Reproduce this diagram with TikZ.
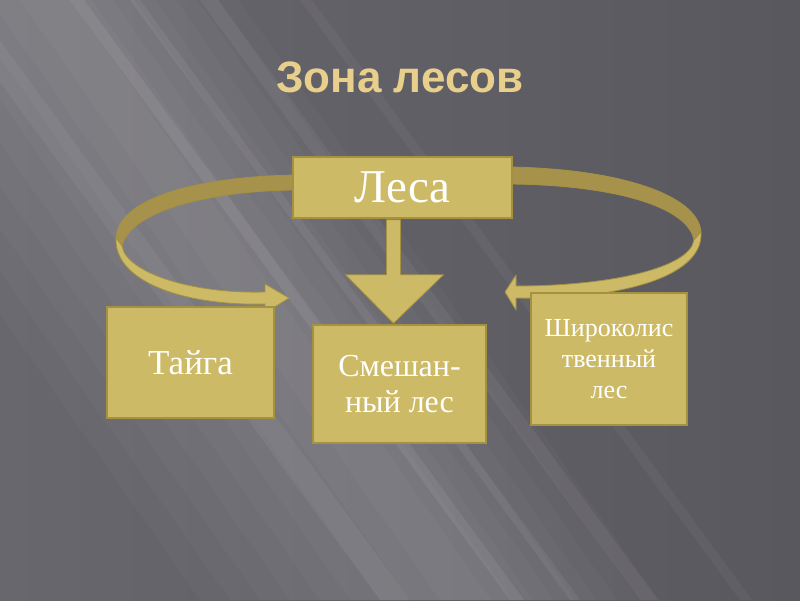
\documentclass[tikz,border=0pt]{standalone}
\usepackage{fontspec}
\setmainfont{Liberation Serif}
\newfontfamily\headfont{Liberation Sans}
\usetikzlibrary{calc}
\definecolor{boxfill}{RGB}{205,186,102}
\definecolor{boxedge}{RGB}{165,145,66}
\definecolor{ribback}{RGB}{166,146,74}
\definecolor{headcol}{RGB}{232,208,140}
\definecolor{bgleft}{RGB}{104,103,109}
\definecolor{bgright}{RGB}{90,88,95}

\begin{document}
\begin{tikzpicture}[x=1pt, y=-1pt,
  box/.style={draw=boxedge, line width=1.5pt, fill=boxfill, text=white, align=center,
    inner sep=0pt, font=\fontsize{32}{36}\selectfont},
  rib/.style={draw=boxedge, line width=0.8pt, line join=round}]
% background with a soft diagonal glow
\shade[left color=bgleft, right color=bgright] (0,0) rectangle (800,600);
\useasboundingbox (0,0) rectangle (800,600);
\foreach \w in {30,60,...,270}{
  \fill[white, opacity=0.024] (50-\w,0) -- (50+\w*0.7,0) -- (470+\w*0.7,600) -- (470-\w,600) -- cycle;
}
\foreach \a/\w/\o in {-60/30/0.05, 70/14/0.07, 130/10/0.06, 200/18/0.05, 300/12/0.04}{
  \fill[white, opacity=\o] (\a,0) -- (\a+\w,0) -- (\a+\w+440,600) -- (\a+440,600) -- cycle;
}
\node[font=\headfont\bfseries\fontsize{44}{48}\selectfont, text=headcol] (title) at (400,77) {Зона лесов};
% ribbons round the top box
\fill[ribback, rib] (295,175) .. controls (190,177) and (118,200) .. (116,238)
  -- (122,246) .. controls (130,212) and (205,191) .. (295,190) -- cycle;
\fill[boxfill, rib] (116,238) .. controls (114,282) and (185,306) .. (265,304)
  -- (265,313) -- (289,298) -- (265,284) -- (265,292)
  .. controls (190,294) and (126,272) .. (122,246) -- cycle;
\fill[ribback, rib] (510,167) .. controls (620,169) and (698,195) .. (701,232)
  -- (694,240) .. controls (688,207) and (615,185) .. (510,184) -- cycle;
\fill[boxfill, rib] (701,232) .. controls (704,280) and (610,300) .. (516,298)
  -- (516,310) -- (505,292) -- (516,275) -- (516,286)
  .. controls (610,286) and (690,268) .. (694,240) -- cycle;
% boxes
\node[box, minimum width=219pt, minimum height=61pt, font=\fontsize{47}{50}\selectfont] (les) at (402.5,187.5) {Леса};
\node[box, minimum width=167pt, minimum height=111pt, font=\fontsize{35}{38}\selectfont] (taiga) at (190.5,362.5) {Тайга};
\node[box, minimum width=173pt, minimum height=118pt] (mix) at (399.5,384) {Смешан-\\ный лес};
\node[box, minimum width=156pt, minimum height=132pt, font=\fontsize{26}{31}\selectfont] (broad) at (609,359) {Широколис\\твенный\\лес};
% down arrow
\coordinate (ar) at ($(les.south)+(-9,0)$);
\fill[boxfill, rib] ($(ar)+(-7,1)$) -- ($(ar)+(-7,56)$) -- ($(ar)+(-48,56)$)
  -- ($(mix.north)+(-6,-1)$) -- ($(ar)+(50,56)$) -- ($(ar)+(7,56)$) -- ($(ar)+(7,1)$) -- cycle;
\end{tikzpicture}
\end{document}
